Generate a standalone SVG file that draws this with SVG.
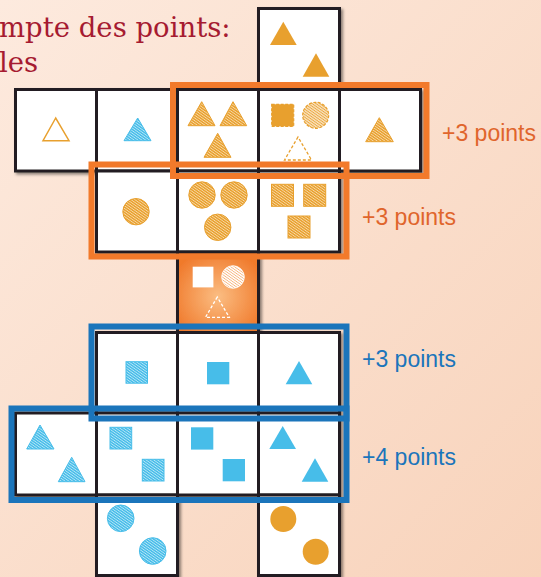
<svg xmlns="http://www.w3.org/2000/svg" width="541" height="577" viewBox="0 0 541 577">
<defs>
<linearGradient id="bg" x1="0" y1="0" x2="1" y2="1">
<stop offset="0" stop-color="#fdeade"/>
<stop offset="1" stop-color="#f8d3bb"/>
</linearGradient>
<radialGradient id="glow" cx="0.5" cy="0.55" r="0.6">
<stop offset="0" stop-color="#fbbd82"/>
<stop offset="1" stop-color="#f07a2c"/>
</radialGradient>
<pattern id="hO" width="2.2" height="2.2" patternUnits="userSpaceOnUse" patternTransform="rotate(35)">
<rect width="2.2" height="2.2" fill="#e8a02e"/>
<rect width="2.2" height="0.8" fill="#f8d9a8"/>
</pattern>
<pattern id="hOL" width="2.2" height="2.2" patternUnits="userSpaceOnUse" patternTransform="rotate(35)">
<rect width="2.2" height="2.2" fill="#f9e2c0"/>
<rect width="2.2" height="0.9" fill="#eaa83e"/>
</pattern>
<pattern id="hB" width="2.2" height="2.2" patternUnits="userSpaceOnUse" patternTransform="rotate(35)">
<rect width="2.2" height="2.2" fill="#47bde9"/>
<rect width="2.2" height="0.8" fill="#b8e6f7"/>
</pattern>
<pattern id="hW" width="2.2" height="2.2" patternUnits="userSpaceOnUse" patternTransform="rotate(35)">
<rect width="2.2" height="2.2" fill="#ffffff"/>
<rect width="2.2" height="0.8" fill="#f7b47c"/>
</pattern>
<filter id="sh" x="-5%" y="-5%" width="110%" height="110%">
<feDropShadow dx="2" dy="2" stdDeviation="1.8" flood-color="#000" flood-opacity="0.45"/>
</filter>
</defs>
<style>
.card{fill:#fff;stroke:#231f20;stroke-width:3}
.so{fill:#e8a02e}
.sb{fill:#47bde9}
.ho{fill:url(#hO);stroke:#e8a02e;stroke-width:1}
.hb{fill:url(#hB);stroke:#47bde9;stroke-width:1}
.hol{fill:url(#hOL);stroke:#e8a02e;stroke-width:1.2;stroke-dasharray:3 1.5}
.outo{fill:#fff;stroke:#e8a02e;stroke-width:1.5}
.dsq{fill:#e8a02e;stroke:#e8a02e;stroke-width:1.2;stroke-dasharray:3 1.5}
.dtri{fill:none;stroke:#e8a02e;stroke-width:1.3;stroke-dasharray:3 2}
.wdash{fill:none;stroke:#fff;stroke-width:1.3;stroke-dasharray:3 2}
.hlo{fill:none;stroke:#f27a2b;stroke-width:6}
.hlb{fill:none;stroke:#1b75bb;stroke-width:6}
.lbl{font-family:"Liberation Sans",Arial,sans-serif;font-size:23px}
.title{font-family:"DejaVu Serif",serif;font-size:27.5px;fill:#a61b31}
</style>
<rect width="541" height="577" fill="url(#bg)"/>
<text class="title" x="-1" y="37">mpte des points:</text>
<text class="title" x="-1" y="72">les</text>
<g id="cards" filter="url(#sh)">
<g id="card-top">
<rect class="card" x="258.5" y="8.5" width="81" height="81"/>
<polygon class="so" points="283.3,21.7 270,45 296.7,45"/>
<polygon class="so" points="316,53.3 302.7,76.7 329.3,76.7"/>
</g>
<g id="card-r1c1">
<rect class="card" x="15.5" y="89.5" width="81" height="81.5"/>
<polygon class="outo" points="55.7,118 43,140.7 69,140.7"/>
</g>
<g id="card-r1c2">
<rect class="card" x="96.5" y="89.5" width="81" height="81.5"/>
<polygon class="hb" points="137.7,118 124,140.7 151,140.7"/>
</g>
<g id="card-r1c3">
<rect class="card" x="177.5" y="89.5" width="81" height="81.5"/>
<polygon class="ho" points="201.7,101.7 188,125.7 215,125.7"/>
<polygon class="ho" points="233,101.7 220,125.7 246.7,125.7"/>
<polygon class="ho" points="217.7,133.3 204,157.3 231,157.3"/>
</g>
<g id="card-r1c4">
<rect class="card" x="258.5" y="89.5" width="81" height="81.5"/>
<rect class="dsq" x="271.7" y="104.3" width="22" height="22"/>
<circle class="hol" cx="315.7" cy="115.3" r="13"/>
<polygon class="dtri" points="298,137 284.5,160 311.5,160"/>
</g>
<g id="card-r1c5">
<rect class="card" x="339.5" y="89.5" width="81" height="81.5"/>
<polygon class="ho" points="379.3,117.7 365.7,141.7 393.3,141.7"/>
</g>
<g id="card-r2c2">
<rect class="card" x="96.5" y="171" width="81" height="81"/>
<circle class="ho" cx="136" cy="211.7" r="13.2"/>
</g>
<g id="card-r2c3">
<rect class="card" x="177.5" y="171" width="81" height="81"/>
<circle class="ho" cx="202" cy="195" r="13.2"/>
<circle class="ho" cx="234" cy="195" r="13.2"/>
<circle class="ho" cx="217.7" cy="227.3" r="13.2"/>
</g>
<g id="card-r2c4">
<rect class="card" x="258.5" y="171" width="81" height="81"/>
<rect class="ho" x="271.5" y="184.3" width="22" height="22"/>
<rect class="ho" x="303.7" y="184.3" width="22" height="22"/>
<rect class="ho" x="288" y="216" width="22" height="22"/>
</g>
<g id="card-center">
<rect x="177.5" y="252" width="81" height="80.5" fill="url(#glow)" stroke="#231f20" stroke-width="3"/>
<rect x="192.7" y="266.7" width="20.7" height="20.7" fill="#fff"/>
<circle cx="233" cy="277" r="11.3" fill="url(#hW)" stroke="#fff" stroke-width="0.8"/>
<polygon class="wdash" points="217.3,297 205.5,317.3 229.3,317.3"/>
</g>
<g id="card-r3c2">
<rect class="card" x="96.5" y="332.5" width="81" height="80.5"/>
<rect class="hb" x="126" y="361.7" width="21.5" height="21.5"/>
</g>
<g id="card-r3c3">
<rect class="card" x="177.5" y="332.5" width="81" height="80.5"/>
<rect class="sb" x="207" y="362" width="22.3" height="22.3"/>
</g>
<g id="card-r3c4">
<rect class="card" x="258.5" y="332.5" width="81" height="80.5"/>
<polygon class="sb" points="299,361 285.7,384.3 312.3,384.3"/>
</g>
<g id="card-r4c1">
<rect class="card" x="15.5" y="413" width="81" height="82"/>
<polygon class="hb" points="40,425 26.7,449 54,449"/>
<polygon class="hb" points="71.7,457.3 58.3,481.7 85,481.7"/>
</g>
<g id="card-r4c2">
<rect class="card" x="96.5" y="413" width="81" height="82"/>
<rect class="hb" x="110" y="427.3" width="21.7" height="21.7"/>
<rect class="hb" x="142.3" y="459.3" width="21.7" height="21.7"/>
</g>
<g id="card-r4c3">
<rect class="card" x="177.5" y="413" width="81" height="82"/>
<rect class="sb" x="191" y="427.3" width="22.3" height="22.3"/>
<rect class="sb" x="222.7" y="459" width="22.3" height="22.3"/>
</g>
<g id="card-r4c4">
<rect class="card" x="258.5" y="413" width="81" height="82"/>
<polygon class="sb" points="282.7,426 269.3,449 296,449"/>
<polygon class="sb" points="315,458.3 301.7,481.7 328.3,481.7"/>
</g>
<g id="card-r5c2">
<rect class="card" x="96.5" y="495" width="81" height="80.5"/>
<circle class="hb" cx="120.7" cy="518.3" r="13.3"/>
<circle class="hb" cx="152.7" cy="551" r="13.3"/>
</g>
<g id="card-r5c4">
<rect class="card" x="258.5" y="495" width="81" height="80.5"/>
<circle class="so" cx="283.3" cy="519" r="13"/>
<circle class="so" cx="315.7" cy="551.7" r="13"/>
</g>
</g>
<g id="connectors">
<rect id="hl-row1" class="hlo" x="173" y="85" width="253.5" height="91"/>
<rect id="hl-row2" class="hlo" x="91.5" y="164.5" width="255" height="92"/>
<rect id="hl-row3" class="hlb" x="91.5" y="326.5" width="255" height="92"/>
<rect id="hl-row4" class="hlb" x="11.5" y="408.5" width="335" height="91.5"/>
</g>
<g id="labels">
<text class="lbl" x="442" y="141" fill="#e0652c">+3 points</text>
<text class="lbl" x="362" y="225" fill="#e0652c">+3 points</text>
<text class="lbl" x="362" y="366.5" fill="#1b75bb">+3 points</text>
<text class="lbl" x="362" y="465" fill="#1b75bb">+4 points</text>
</g>
</svg>
